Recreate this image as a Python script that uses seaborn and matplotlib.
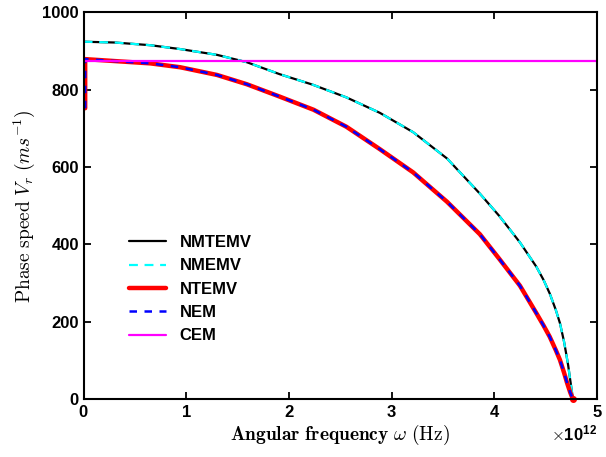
import numpy as np
import matplotlib
matplotlib.use("Agg")
import matplotlib.pyplot as plt
import seaborn as sns

# frequency in units of 1e12 Hz, phase speed in m/s
freq_nmtemv = [0.0, 0.3, 0.65, 0.94, 1.30, 1.59, 1.91, 2.23, 2.56, 2.886, 3.21, 3.54,
               3.86, 4.05, 4.25, 4.41, 4.48, 4.54, 4.60, 4.64, 4.68, 4.70, 4.72,
               4.74, 4.755, 4.765]
speed_nmtemv = [924, 922, 915, 905, 890, 871, 840, 813, 780, 740, 690, 622,
                531, 473, 405, 342, 308, 273, 230, 196, 148, 118, 87,
                49, 22, 0]

freq_ntemv = [0.015, 0.015, 0.3, 0.65, 0.94, 1.30, 1.59, 1.91, 2.24, 2.56, 2.886,
              3.21, 3.54, 3.86, 4.05, 4.25, 4.41, 4.48, 4.54, 4.60, 4.64, 4.68,
              4.71, 4.74, 4.765]
speed_ntemv = [752, 879, 874, 868, 858, 838, 814, 782, 748, 704, 646,
               586, 510, 426, 362, 293, 222, 190, 161, 126, 101, 68,
               41, 17, 0]

freq_cem = [0.0, 5.0]
speed_cem = [875, 875]

sns.set_style("ticks")
plt.rcParams['font.family'] = ['Liberation Sans', 'DejaVu Sans']
plt.rcParams['font.weight'] = 'bold'
plt.rcParams['mathtext.fontset'] = 'cm'
for k in ['text.color', 'axes.labelcolor', 'xtick.color', 'ytick.color', 'axes.edgecolor']:
    plt.rcParams[k] = 'black'

fig = plt.figure(figsize=(6.06, 4.57), dpi=100)
ax = fig.add_axes([0.138, 0.127, 0.847, 0.846])

f1 = np.array(freq_nmtemv) * 1e12
f2 = np.array(freq_ntemv) * 1e12
f3 = np.array(freq_cem) * 1e12

kw = dict(ax=ax, sort=False, estimator=None)
sns.lineplot(x=f1, y=speed_nmtemv, color='black', lw=1.6, label='NMTEMV', **kw)
sns.lineplot(x=f1, y=speed_nmtemv, color='cyan', lw=1.6,
             linestyle=(0, (4, 3)), label='NMEMV', **kw)
sns.lineplot(x=f2, y=speed_ntemv, color='red', lw=3.2, label='NTEMV', **kw)
sns.lineplot(x=f2, y=speed_ntemv, color='blue', lw=1.8,
             linestyle=(0, (3, 3)), label='NEM', **kw)
sns.lineplot(x=f3, y=speed_cem, color='magenta', lw=1.6, label='CEM', **kw)
ax.plot(f2[-1], 0, 'o', color='red', ms=4, clip_on=False)

ax.set_xlim(0, 5e12)
ax.set_ylim(0, 1000)
ax.set_xticks(np.arange(0, 6) * 1e12)
ax.set_yticks(np.arange(0, 1001, 200))
ax.ticklabel_format(axis='x', style='sci', scilimits=(12, 12), useMathText=True)
ax.xaxis.get_offset_text().set_fontsize(12)
ax.xaxis.get_offset_text().set_fontweight('bold')
ax.tick_params(direction='in', length=5, width=1.3, labelsize=12, top=True, right=True)
for lab in ax.get_xticklabels() + ax.get_yticklabels():
    lab.set_fontweight('bold')
for s in ax.spines.values():
    s.set_linewidth(1.5)
    s.set_visible(True)

ax.set_xlabel(r"$\mathbf{Angular\ frequency}\ \omega\ \mathrm{(Hz)}$", fontsize=14, labelpad=2)
ax.set_ylabel(r"$\mathrm{Phase\ speed}\ V_r\ (ms^{-1})$", fontsize=14, labelpad=4)

leg = ax.legend(loc='lower left', bbox_to_anchor=(0.06, 0.105), frameon=False,
                prop={'weight': 'bold', 'size': 12}, handlelength=2.2,
                labelspacing=0.5)

fig.savefig("out.png", dpi=100)
